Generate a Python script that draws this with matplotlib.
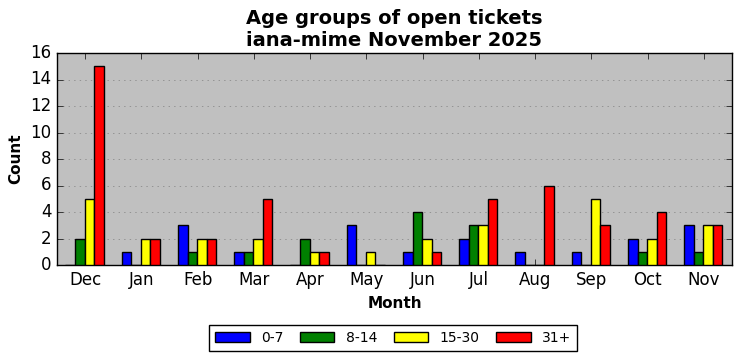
import numpy as np
import matplotlib
matplotlib.use("Agg")
import matplotlib.pyplot as plt

plt.style.use("classic")

months = ["Dec", "Jan", "Feb", "Mar", "Apr", "May", "Jun", "Jul", "Aug", "Sep", "Oct", "Nov"]
age_0_7 = [0, 1, 3, 1, 0, 3, 1, 2, 1, 1, 2, 3]
age_8_14 = [2, 0, 1, 1, 2, 0, 4, 3, 0, 0, 1, 1]
age_15_30 = [5, 2, 2, 2, 1, 1, 2, 3, 0, 5, 2, 3]
age_31_plus = [15, 2, 2, 5, 1, 0, 1, 5, 6, 3, 4, 3]

series = [
    ("0-7", age_0_7, "blue"),
    ("8-14", age_8_14, "green"),
    ("15-30", age_15_30, "yellow"),
    ("31+", age_31_plus, "red"),
]

fig = plt.figure(figsize=(7.41, 3.61), dpi=100, facecolor="white")
ax = fig.add_axes([57 / 741, 1 - 265 / 361, 675 / 741, 212 / 361])
ax.set_facecolor("#c0c0c0")

x = np.arange(len(months))
width = 0.17
for i, (label, values, color) in enumerate(series):
    ax.bar(x + (i - 2) * width - 0.01, values, width=width, color=color,
           edgecolor="black", linewidth=1, label=label, align="edge", zorder=3)

ax.set_xlim(-0.5, 11.5)
ax.set_ylim(0, 16)
ax.set_yticks(range(0, 17, 2))
ax.set_xticks(x)
ax.set_xticklabels(months)
ax.yaxis.grid(True, linestyle=":", color="gray", zorder=0)
ax.set_axisbelow(True)

ax.set_xlabel("Month", fontsize=11, fontweight="bold")
ax.set_ylabel("Count", fontsize=11, fontweight="bold")
ax.set_title("Age groups of open tickets\niana-mime November 2025",
             fontsize=14, fontweight="bold", pad=5)

fig.legend(loc="center", bbox_to_anchor=(393 / 741, 1 - 338 / 361), ncol=4,
           fontsize=10, handlelength=2.5, handletextpad=0.8,
           columnspacing=1.2, frameon=True)

fig.savefig("out.png", dpi=100, facecolor="white")
